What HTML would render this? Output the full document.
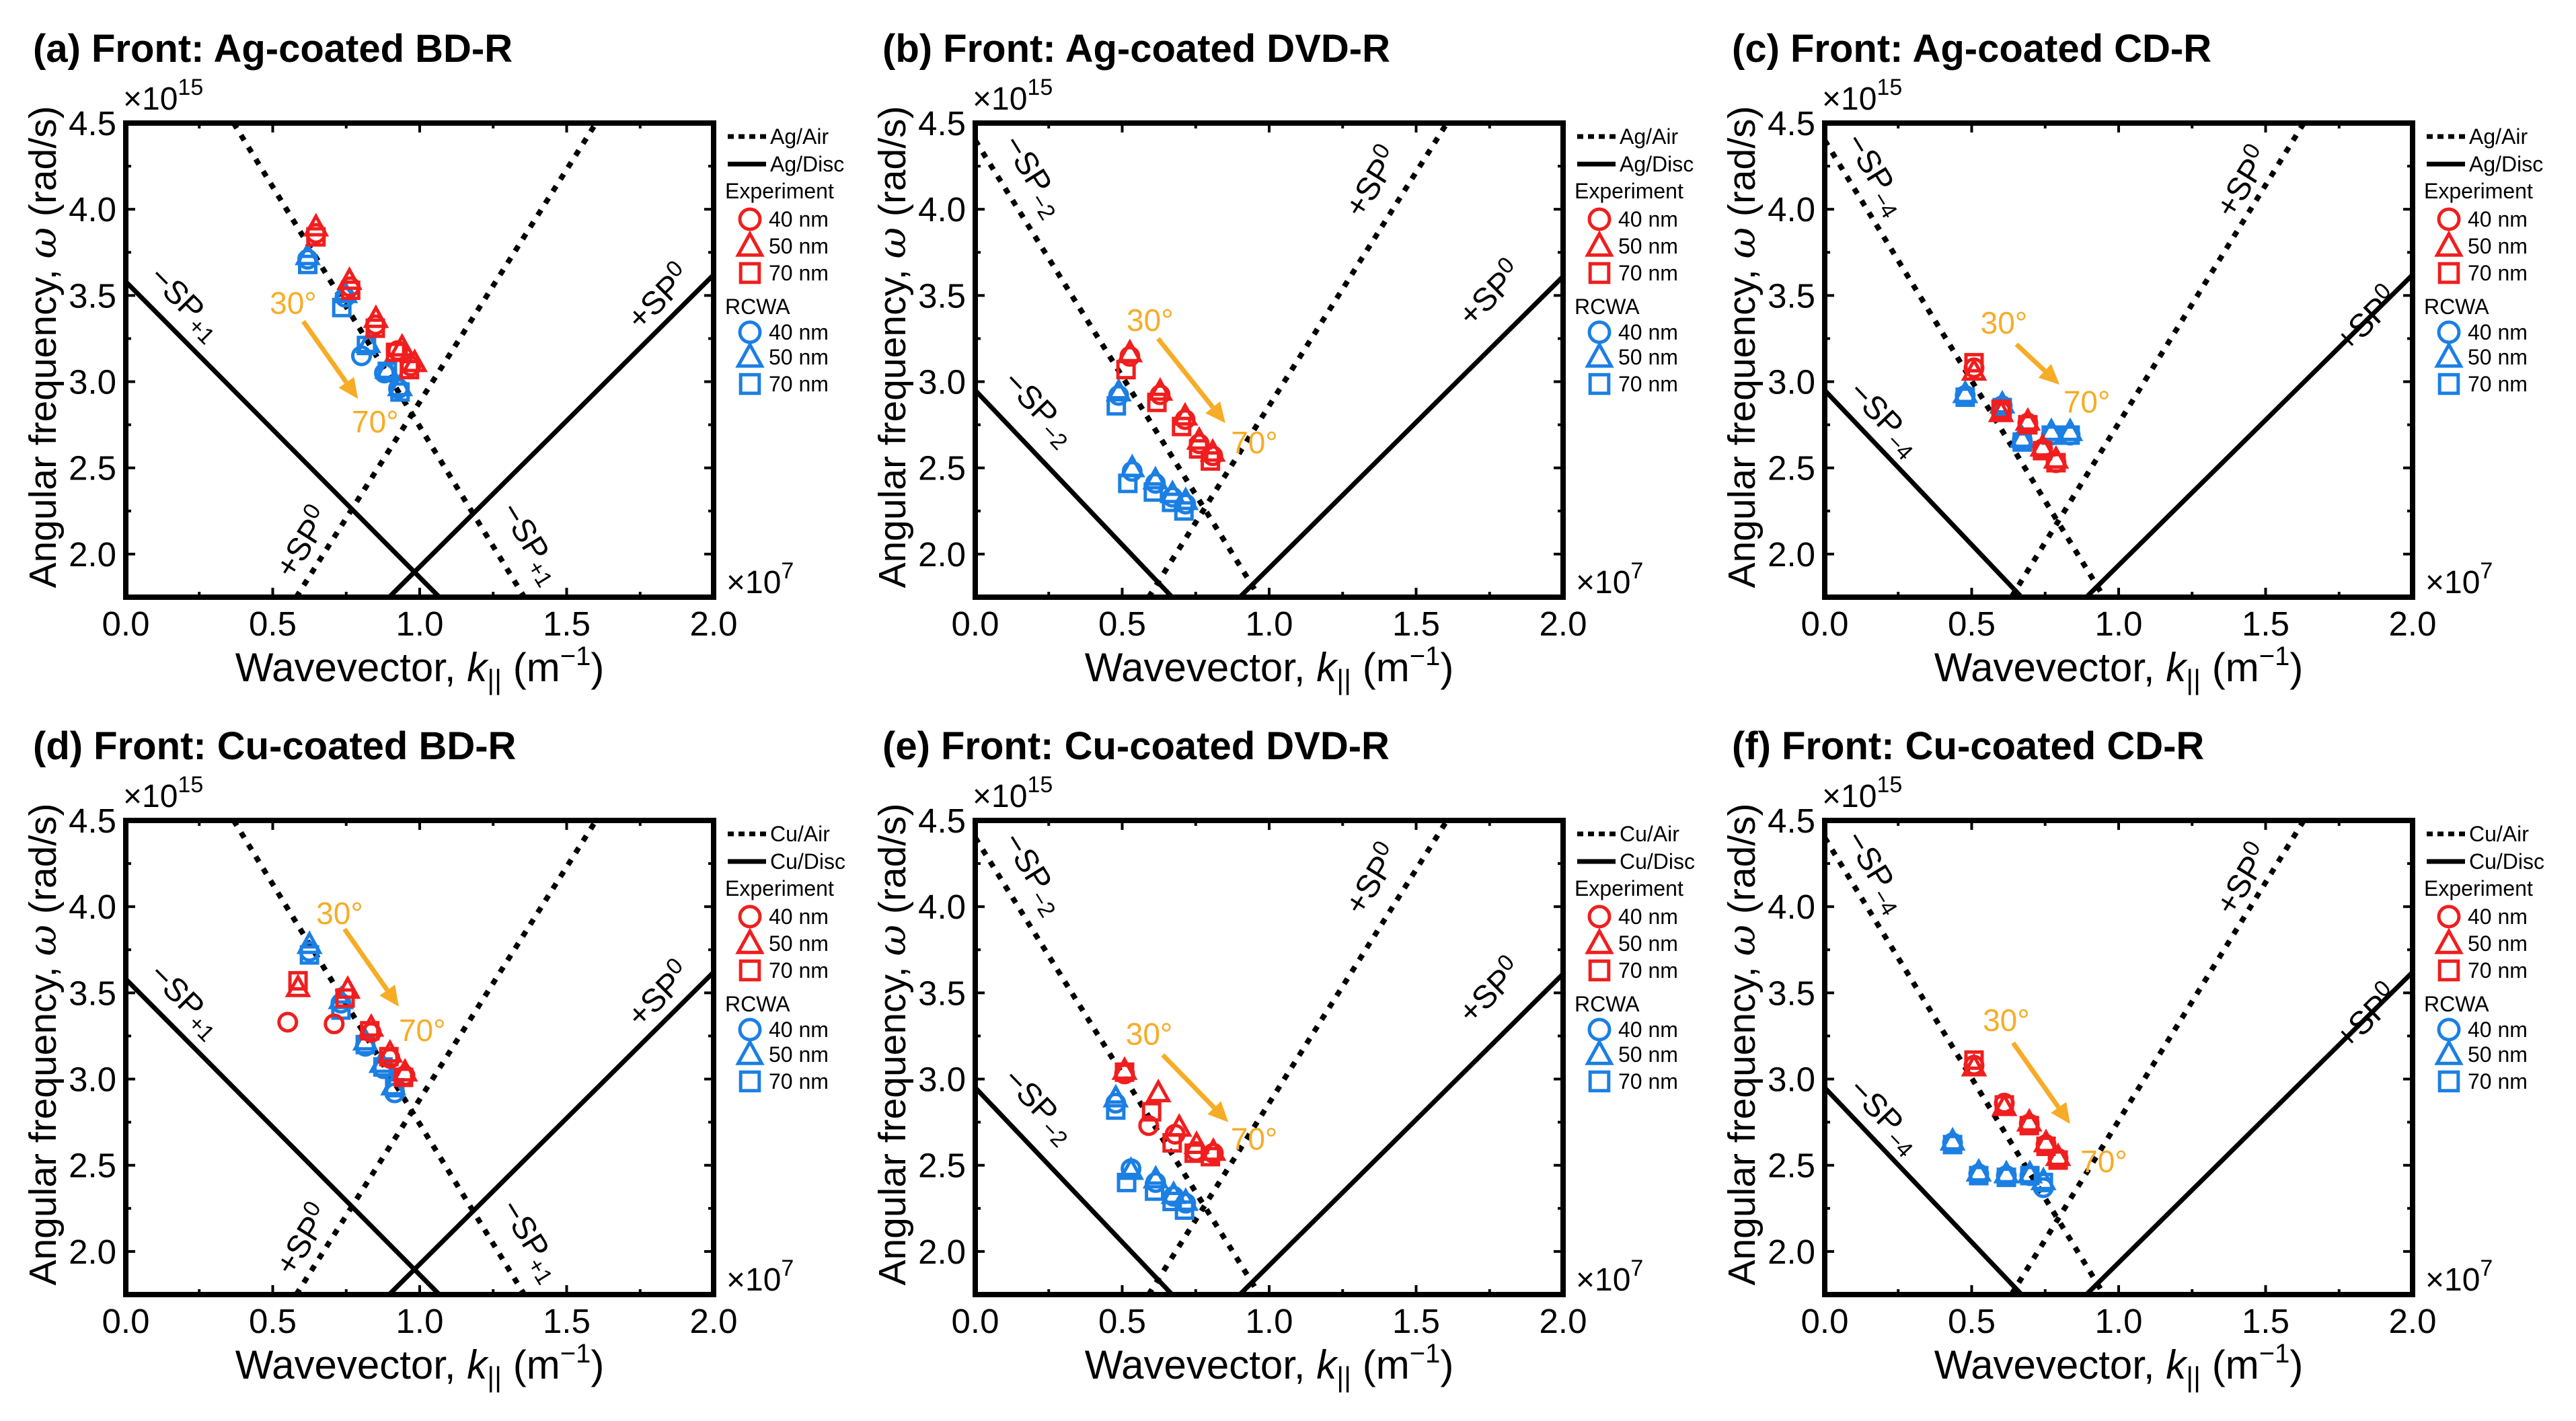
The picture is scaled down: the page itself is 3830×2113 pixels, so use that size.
<!DOCTYPE html>
<html><head><meta charset="utf-8"><title>Dispersion panels</title>
<style>
html,body{margin:0;padding:0;background:#fff;}
svg{display:block;font-family:"Liberation Sans",Arial,sans-serif;}
</style></head>
<body>
<svg id="fig" width="3830" height="2113" viewBox="0 0 3830 2113" xmlns="http://www.w3.org/2000/svg"></svg>
<script>
// ---------- data (k in 1e7 m^-1, omega in 1e15 rad/s) ----------
const panelTitles = ["(a) Front: Ag-coated BD-R","(b) Front: Ag-coated DVD-R","(c) Front: Ag-coated CD-R",
                     "(d) Front: Cu-coated BD-R","(e) Front: Cu-coated DVD-R","(f) Front: Cu-coated CD-R"];
const panelMetals = ["Ag","Ag","Ag","Cu","Cu","Cu"];
const xTicks = [0.0,0.5,1.0,1.5,2.0];
const xTickLabels = ["0.0","0.5","1.0","1.5","2.0"];
const yTicks = [2.0,2.5,3.0,3.5,4.0,4.5];
const yTickLabels = ["2.0","2.5","3.0","3.5","4.0","4.5"];

// dispersion line endpoints [k1,w1,k2,w2]
const airDownA = [0.367,4.5,1.356,1.75], airUpA = [0.58,1.75,1.6,4.5], discDownA = [0,3.58,1.067,1.75], discUpA = [0.896,1.75,2.0,3.62];
const airDownB = [0,4.4,0.967,1.75], airUpB = [0.59,1.75,1.605,4.5], discDownB = [0,2.95,0.67,1.75], discUpB = [0.9,1.75,2.0,3.61];
const airDownC = [0,4.4,0.95,1.75], airUpC = [0.635,1.75,1.63,4.5], discDownC = [0,2.95,0.67,1.75], discUpC = [0.89,1.75,2.0,3.62];

// panel a
const a_exp40 = [[0.647,3.86],[0.763,3.55],[0.85,3.33],[0.925,3.18],[0.97,3.09]];
const a_exp50 = [[0.647,3.897],[0.761,3.587],[0.851,3.366],[0.94,3.2],[0.983,3.11]];
const a_exp70 = [[0.647,3.84],[0.765,3.53],[0.849,3.31],[0.918,3.17],[0.965,3.07]];
const a_rc40 = [[0.619,3.71],[0.746,3.49],[0.802,3.15],[0.88,3.05],[0.928,2.96]];
const a_rc50 = [[0.619,3.73],[0.746,3.51],[0.825,3.22],[0.89,3.07],[0.933,2.97]];
const a_rc70 = [[0.619,3.68],[0.735,3.43],[0.819,3.21],[0.89,3.06],[0.933,2.94]];
// panel b
const b_exp40 = [[0.526,3.147],[0.629,2.924],[0.714,2.78],[0.762,2.64],[0.808,2.57]];
const b_exp50 = [[0.526,3.167],[0.629,2.944],[0.714,2.80],[0.762,2.66],[0.808,2.59]];
const b_exp70 = [[0.513,3.07],[0.618,2.88],[0.702,2.74],[0.76,2.61],[0.80,2.54]];
const b_rc40 = [[0.488,2.92],[0.534,2.48],[0.613,2.41],[0.671,2.33],[0.716,2.29]];
const b_rc50 = [[0.488,2.94],[0.534,2.50],[0.613,2.43],[0.671,2.35],[0.716,2.31]];
const b_rc70 = [[0.48,2.86],[0.519,2.41],[0.606,2.36],[0.668,2.30],[0.71,2.25]];
// panel c
const c_exp40 = [[0.508,3.08],[0.6,2.83],[0.691,2.76],[0.741,2.61],[0.787,2.53]];
const c_exp50 = [[0.508,3.06],[0.6,2.82],[0.691,2.77],[0.741,2.62],[0.787,2.55]];
const c_exp70 = [[0.508,3.11],[0.6,2.84],[0.691,2.75],[0.741,2.60],[0.787,2.53]];
const c_rc40 = [[0.478,2.92],[0.604,2.86],[0.672,2.66],[0.771,2.69],[0.835,2.69]];
const c_rc50 = [[0.478,2.93],[0.604,2.87],[0.672,2.67],[0.771,2.71],[0.835,2.71]];
const c_rc70 = [[0.478,2.91],[0.604,2.85],[0.672,2.65],[0.771,2.69],[0.835,2.69]];
// panel d
const d_exp40 = [[0.551,3.33],[0.709,3.32],[0.835,3.27],[0.899,3.12],[0.95,3.02]];
const d_exp50 = [[0.586,3.53],[0.755,3.52],[0.835,3.30],[0.899,3.15],[0.95,3.04]];
const d_exp70 = [[0.586,3.57],[0.746,3.47],[0.83,3.28],[0.895,3.13],[0.945,3.01]];
const d_rc40 = [[0.625,3.74],[0.732,3.44],[0.815,3.19],[0.877,3.06],[0.915,2.92]];
const d_rc50 = [[0.625,3.78],[0.732,3.46],[0.815,3.22],[0.87,3.09],[0.91,2.96]];
const d_rc70 = [[0.625,3.72],[0.732,3.40],[0.815,3.20],[0.875,3.07],[0.915,2.95]];
// panel e
const e_exp40 = [[0.508,3.03],[0.59,2.73],[0.68,2.68],[0.75,2.58],[0.81,2.57]];
const e_exp50 = [[0.508,3.05],[0.623,2.92],[0.694,2.72],[0.753,2.62],[0.81,2.58]];
const e_exp70 = [[0.508,3.04],[0.6,2.81],[0.67,2.63],[0.745,2.57],[0.80,2.55]];
const e_rc40 = [[0.478,2.86],[0.53,2.48],[0.614,2.40],[0.675,2.32],[0.716,2.28]];
const e_rc50 = [[0.478,2.89],[0.53,2.47],[0.614,2.42],[0.675,2.33],[0.716,2.29]];
const e_rc70 = [[0.478,2.82],[0.515,2.40],[0.61,2.35],[0.67,2.29],[0.712,2.24]];
// panel f
const f_exp40 = [[0.508,3.08],[0.611,2.86],[0.696,2.74],[0.753,2.62],[0.794,2.54]];
const f_exp50 = [[0.508,3.07],[0.611,2.84],[0.696,2.75],[0.753,2.63],[0.794,2.55]];
const f_exp70 = [[0.508,3.11],[0.611,2.85],[0.696,2.73],[0.753,2.61],[0.794,2.53]];
const f_rc40 = [[0.435,2.63],[0.524,2.45],[0.618,2.44],[0.698,2.44],[0.744,2.37]];
const f_rc50 = [[0.435,2.64],[0.524,2.46],[0.618,2.45],[0.698,2.45],[0.744,2.41]];
const f_rc70 = [[0.435,2.62],[0.524,2.44],[0.618,2.43],[0.698,2.44],[0.744,2.40]];

// angle annotations: [label30K, label30W, arrowK1, arrowW1, arrowK2, arrowW2, label70K, label70W]
const annotA = [0.49,3.395,0.604,3.35,0.79,2.90,0.769,2.705];
const annotB = [0.515,3.295,0.622,3.25,0.851,2.76,0.87,2.585];
const annotC = [0.53,3.28,0.652,3.217,0.799,2.983,0.812,2.82];
const annotD = [0.648,3.90,0.744,3.87,0.929,3.42,0.929,3.22];
const annotE = [0.512,3.20,0.638,3.14,0.861,2.75,0.869,2.59];
const annotF = [0.538,3.28,0.641,3.21,0.835,2.74,0.87,2.46];

// line label positions [k, w]
const labelPosA = [[0.2,3.45],[1.82,3.48],[0.61,2.06],[1.375,2.06]];
const labelPosB = [[0.195,4.19],[1.358,4.15],[1.758,3.50],[0.214,2.84]];
const labelPosC = [[0.17,4.2],[1.43,4.15],[1.85,3.35],[0.2,2.78]];

// ---------- drawing ----------
const NS = "http://www.w3.org/2000/svg";
const svg = document.getElementById("fig");
const RED = "#f01e1e", BLUE = "#1b7fe3", ORANGE = "#f7ac26";
const PW = 874, PH = 705;

function mk(tag, attrs, parent){
  const e = document.createElementNS(NS, tag);
  for (const k in attrs) e.setAttribute(k, attrs[k]);
  (parent || svg).appendChild(e);
  return e;
}

function marker(g, shape, cx, cy, color, sc){
  sc = sc || 1;
  let e;
  if (shape === "circle") {
    e = mk("circle", {cx:cx, cy:cy, r:13*sc, fill:"none", stroke:color, "stroke-width":5}, g);
  } else if (shape === "triangle") {
    const r = 16*sc;
    e = mk("polygon", {points:`${cx},${cy-r} ${cx+r*0.95},${cy+r*0.72} ${cx-r*0.95},${cy+r*0.72}`, fill:"none", stroke:color, "stroke-width":5, "stroke-linejoin":"miter"}, g);
  } else {
    const h = 12*sc;
    e = mk("rect", {x:cx-h, y:cy-h, width:2*h, height:2*h, fill:"none", stroke:color, "stroke-width":5}, g);
  }
  return e;
}

function drawPanel(idx, lines, series, annot, labelPos, labelTexts){
  const col = idx % 3, row = Math.floor(idx / 3);
  const ox = 187 + col * 1263, oy = 183 + row * 1037;
  const X = k => ox + k / 2 * PW;
  const Y = w => oy + (4.5 - w) / 2.75 * PH;
  const g = mk("g", {});
  
  

  const t = mk("text", {x: ox - 138, y: oy - 91, "font-size": 58, "font-weight": "bold", fill: "#000"}, g);
  t.textContent = panelTitles[idx];
  
  

  const cid = "clip" + idx;
  const cp = mk("clipPath", {id: cid}, g);
  mk("rect", {x: ox, y: oy, width: PW, height: PH}, cp);
  const plot = mk("g", {"clip-path": `url(#${cid})`}, g);
  
  

  const names = ["air-down-line","air-up-line","disc-down-line","disc-up-line"];
  lines.forEach((L, i) => {
    const dotted = i < 2;
    const ln = mk("line", {x1: X(L[0]), y1: Y(L[1]), x2: X(L[2]), y2: Y(L[3]), stroke: "#000", "stroke-width": dotted ? 8 : 7,
      "stroke-dasharray": dotted ? "9 12" : "none"}, plot);
    
    
  });

  labelTexts.forEach((lt, i) => {
    const L = lines[lt.line];
    const ang = Math.atan2(Y(L[3]) - Y(L[1]), X(L[2]) - X(L[0])) * 180 / Math.PI;
    const px = X(labelPos[i][0]), py = Y(labelPos[i][1]);
    const tx = mk("text", {x: px, y: py, "font-size": 48, "text-anchor": "middle", "dominant-baseline": "middle",
      transform: `rotate(${ang.toFixed(2)} ${px} ${py})`, fill: "#000"}, g);
    
    
    const s1 = mk("tspan", {}, tx); s1.textContent = lt.pre;
    const s2 = mk("tspan", {"font-size": 34, dy: lt.up ? -15 : 13}, tx); s2.textContent = lt.idx;
  });

  const shapes = ["circle","triangle","rect","circle","triangle","rect"];
  const colors = [RED,RED,RED,BLUE,BLUE,BLUE];
  const snames = ["exp-40nm","exp-50nm","exp-70nm","rcwa-40nm","rcwa-50nm","rcwa-70nm"];
  const order = [3,4,5,2,0,1];
  order.forEach(si => {
    const sg = mk("g", {}, g);
    
    
    series[si].forEach(p => {
      const m = marker(sg, shapes[si], X(p[0]), Y(p[1]), colors[si]);
      
      
    });
  });

  const a30 = mk("text", {x: X(annot[0]), y: Y(annot[1]), "font-size": 46, fill: ORANGE}, g);
  a30.textContent = "30°";
  
  
  const x1 = X(annot[2]), y1 = Y(annot[3]), x2 = X(annot[4]), y2 = Y(annot[5]);
  const ang = Math.atan2(y2 - y1, x2 - x1);
  const hl = 30, hw = 14;
  const bx = x2 - hl * Math.cos(ang), by = y2 - hl * Math.sin(ang);
  const arr = mk("line", {x1: x1, y1: y1, x2: bx, y2: by, stroke: ORANGE, "stroke-width": 7}, g);
  
  
  const head = mk("polygon", {points: `${x2},${y2} ${bx + hw*Math.sin(ang)},${by - hw*Math.cos(ang)} ${bx - hw*Math.sin(ang)},${by + hw*Math.cos(ang)}`, fill: ORANGE}, g);
  
  
  const a70 = mk("text", {x: X(annot[6]), y: Y(annot[7]), "font-size": 46, fill: ORANGE}, g);
  a70.textContent = "70°";
  
  

  const tk = mk("g", {stroke: "#000", "stroke-width": 4}, g);
  
  
  for (let k = 0; k <= 2.0001; k += 0.25) {
    const len = (Math.abs(k*2 - Math.round(k*2)) < 1e-6) ? 14 : 8;
    mk("line", {x1: X(k), y1: oy + PH, x2: X(k), y2: oy + PH - len}, tk);
    mk("line", {x1: X(k), y1: oy, x2: X(k), y2: oy + len}, tk);
  }
  for (let w = 2.0; w <= 4.5001; w += 0.25) {
    const len = (Math.abs(w*2 - Math.round(w*2)) < 1e-6) ? 14 : 8;
    mk("line", {x1: ox, y1: Y(w), x2: ox + len, y2: Y(w)}, tk);
    mk("line", {x1: ox + PW, y1: Y(w), x2: ox + PW - len, y2: Y(w)}, tk);
  }

  const fr = mk("rect", {x: ox, y: oy, width: PW, height: PH, fill: "none", stroke: "#000", "stroke-width": 8}, g);
  
  

  xTicks.forEach((v, i) => {
    const tl = mk("text", {x: X(v), y: oy + PH + 57, "font-size": 51, "text-anchor": "middle"}, g);
    tl.textContent = xTickLabels[i];
    
    
  });
  yTicks.forEach((v, i) => {
    const tl = mk("text", {x: ox - 14, y: Y(v) + 18, "font-size": 51, "text-anchor": "end"}, g);
    tl.textContent = yTickLabels[i];
    
    
  });

  const e15 = mk("text", {x: ox - 4, y: oy - 20, "font-size": 48}, g);
  
  
  const e15a = mk("tspan", {}, e15); e15a.textContent = "×10";
  const e15b = mk("tspan", {"font-size": 34, dy: -22}, e15); e15b.textContent = "15";
  const e7 = mk("text", {x: ox + PW + 19, y: oy + PH - 6, "font-size": 48}, g);
  
  
  const e7a = mk("tspan", {}, e7); e7a.textContent = "×10";
  const e7b = mk("tspan", {"font-size": 34, dy: -22}, e7); e7b.textContent = "7";

  const xl = mk("text", {x: ox + PW/2, y: oy + 830, "font-size": 60, "text-anchor": "middle"}, g);
  
  
  mk("tspan", {}, xl).textContent = "Wavevector, ";
  mk("tspan", {"font-style": "italic"}, xl).textContent = "k";
  mk("tspan", {"font-size": 42, dy: 12}, xl).textContent = "||";
  mk("tspan", {dy: -12}, xl).textContent = " (m";
  mk("tspan", {"font-size": 40, dy: -24}, xl).textContent = "−1";
  mk("tspan", {dy: 24}, xl).textContent = ")";

  const yx = ox - 104, yy = oy + 333;
  const yl = mk("text", {x: yx, y: yy, "font-size": 57, "text-anchor": "middle", transform: `rotate(-90 ${yx} ${yy})`}, g);
  
  
  mk("tspan", {}, yl).textContent = "Angular frequency, ";
  mk("tspan", {"font-style": "italic", "font-family": "'DejaVu Serif','Liberation Serif',serif"}, yl).textContent = "ω";
  mk("tspan", {}, yl).textContent = " (rad/s)";

  const lg = mk("g", {"font-size": 32}, g);
  
  
  const lx = ox + PW;
  const m = panelMetals[idx];
  mk("line", {x1: lx + 21, y1: oy + 20, x2: lx + 78, y2: oy + 20, stroke: "#000", "stroke-width": 7, "stroke-dasharray": "9 7"}, lg);
  let tt = mk("text", {x: lx + 84, y: oy + 31}, lg); tt.textContent = m + "/Air";
  
  
  mk("line", {x1: lx + 21, y1: oy + 61, x2: lx + 78, y2: oy + 61, stroke: "#000", "stroke-width": 7}, lg);
  tt = mk("text", {x: lx + 84, y: oy + 72}, lg); tt.textContent = m + "/Disc";
  
  
  const rowsY = [[112,"Experiment"],[154,"40 nm","circle",RED],[194,"50 nm","triangle",RED],[234,"70 nm","rect",RED],
                 [284,"RCWA"],[322,"40 nm","circle",BLUE],[359,"50 nm","triangle",BLUE],[399,"70 nm","rect",BLUE]];
  rowsY.forEach(r => {
    if (r.length === 2) {
      const h = mk("text", {x: lx + 17, y: oy + r[0]}, lg); h.textContent = r[1];
      
      
    } else {
      const mm = marker(lg, r[2], lx + 54, oy + r[0] - 11, r[3], 1.15);
      
      
      const h = mk("text", {x: lx + 82, y: oy + r[0]}, lg); h.textContent = r[1];
      
      
    }
  });
}

const labelsBD = [{line:2, pre:"−SP", idx:"+1", up:false},{line:3, pre:"+SP", idx:"0", up:true},{line:1, pre:"+SP", idx:"0", up:true},{line:0, pre:"−SP", idx:"+1", up:false}];
const labelsDVD = [{line:0, pre:"−SP", idx:"−2", up:false},{line:1, pre:"+SP", idx:"0", up:true},{line:3, pre:"+SP", idx:"0", up:true},{line:2, pre:"−SP", idx:"−2", up:false}];
const labelsCD = [{line:0, pre:"−SP", idx:"−4", up:false},{line:1, pre:"+SP", idx:"0", up:true},{line:3, pre:"+SP", idx:"0", up:true},{line:2, pre:"−SP", idx:"−4", up:false}];

drawPanel(0, [airDownA, airUpA, discDownA, discUpA], [a_exp40,a_exp50,a_exp70,a_rc40,a_rc50,a_rc70], annotA, labelPosA, labelsBD);
drawPanel(1, [airDownB, airUpB, discDownB, discUpB], [b_exp40,b_exp50,b_exp70,b_rc40,b_rc50,b_rc70], annotB, labelPosB, labelsDVD);
drawPanel(2, [airDownC, airUpC, discDownC, discUpC], [c_exp40,c_exp50,c_exp70,c_rc40,c_rc50,c_rc70], annotC, labelPosC, labelsCD);
drawPanel(3, [airDownA, airUpA, discDownA, discUpA], [d_exp40,d_exp50,d_exp70,d_rc40,d_rc50,d_rc70], annotD, labelPosA, labelsBD);
drawPanel(4, [airDownB, airUpB, discDownB, discUpB], [e_exp40,e_exp50,e_exp70,e_rc40,e_rc50,e_rc70], annotE, labelPosB, labelsDVD);
drawPanel(5, [airDownC, airUpC, discDownC, discUpC], [f_exp40,f_exp50,f_exp70,f_rc40,f_rc50,f_rc70], annotF, labelPosC, labelsCD);
</script>
</body></html>
